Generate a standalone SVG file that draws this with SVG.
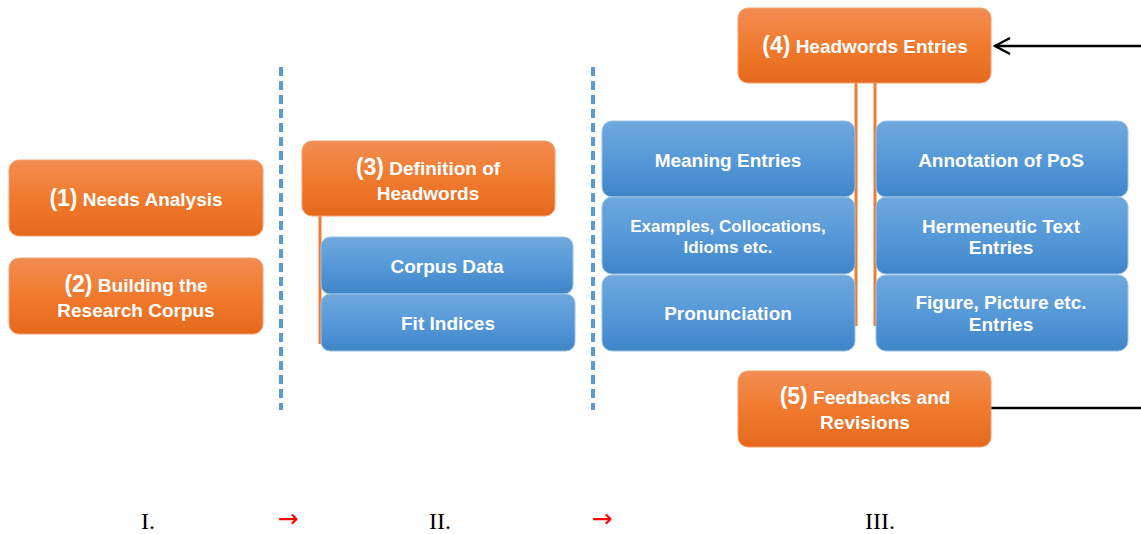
<svg xmlns="http://www.w3.org/2000/svg" width="1141" height="534" viewBox="0 0 1141 534">
<defs>
<linearGradient id="og" x1="0" y1="0" x2="0" y2="1">
<stop offset="0" stop-color="#f28d52"/>
<stop offset="0.5" stop-color="#f07a2e"/>
<stop offset="1" stop-color="#e5691c"/>
</linearGradient>
<linearGradient id="bg" x1="0" y1="0" x2="0" y2="1">
<stop offset="0" stop-color="#6fa8dc"/>
<stop offset="0.5" stop-color="#5699d9"/>
<stop offset="1" stop-color="#3f85c8"/>
</linearGradient>
<marker id="open" viewBox="0 0 20 20" refX="18" refY="10" markerWidth="20" markerHeight="20" markerUnits="userSpaceOnUse" orient="auto">
<path d="M3,2 L18,10 L3,18" fill="none" stroke="#000" stroke-width="2.5"/>
</marker>
</defs>
<style>
.o{fill:url(#og);stroke:#f4a070;stroke-width:1}
.b{fill:url(#bg);stroke:#9cc3e8;stroke-width:1}
.t{font-family:"Liberation Sans",Arial,sans-serif;font-weight:bold;font-size:19px;fill:#fff;text-anchor:middle}
.n{font-size:23px}
.s{font-size:17px}
.dash{stroke:#5b9bd5;stroke-width:4;stroke-dasharray:9 5}
.ol{stroke:#ed7d31;stroke-width:3}
.r{font-family:"Liberation Serif","Times New Roman",serif;font-size:24px;fill:#000;text-anchor:middle}
.ra{font-family:"DejaVu Sans",sans-serif;font-size:25px;fill:#ff0000;text-anchor:middle}
</style>
<g id="connectors">
<line class="dash" x1="281" y1="67" x2="281" y2="410"/>
<line class="dash" x1="593" y1="67" x2="593" y2="410"/>
<line class="ol" x1="320" y1="216" x2="320" y2="344"/>
<line class="ol" x1="856" y1="83" x2="856" y2="326"/>
<line class="ol" x1="875" y1="83" x2="875" y2="326"/>
<line x1="1141" y1="46" x2="995" y2="46" stroke="#000" stroke-width="2.5" marker-end="url(#open)"/>
<line x1="991" y1="408" x2="1141" y2="408" stroke="#000" stroke-width="2.5"/>
</g>
<g id="n1"><rect class="o" x="9" y="160" width="254" height="76" rx="10"/><text class="t" x="136" y="206"><tspan class="n">(1)</tspan> Needs Analysis</text></g>
<g id="n2"><rect class="o" x="9" y="258" width="254" height="76" rx="10"/><text class="t" x="136" y="292"><tspan class="n">(2)</tspan> Building the</text><text class="t" x="136" y="317">Research Corpus</text></g>
<g id="n3"><rect class="o" x="302" y="141" width="253" height="75" rx="10"/><text class="t" x="428" y="175"><tspan class="n">(3)</tspan> Definition of</text><text class="t" x="428" y="200">Headwords</text></g>
<g id="n3a"><rect class="b" x="321" y="237" width="252" height="57" rx="9"/><text class="t" x="447" y="273">Corpus Data</text></g>
<g id="n3b"><rect class="b" x="321" y="294" width="254" height="57" rx="9"/><text class="t" x="448" y="330">Fit Indices</text></g>
<g id="n4"><rect class="o" x="738" y="8" width="253" height="75" rx="10"/><text class="t" x="865" y="53"><tspan class="n">(4)</tspan> Headwords Entries</text></g>
<g id="m1"><rect class="b" x="602" y="121" width="253" height="76" rx="10"/><text class="t" x="728" y="167">Meaning Entries</text></g>
<g id="m2"><rect class="b" x="602" y="197" width="253" height="77" rx="10"/><text class="t s" x="728" y="232">Examples, Collocations,</text><text class="t s" x="728" y="253">Idioms etc.</text></g>
<g id="m3"><rect class="b" x="602" y="275" width="253" height="76" rx="10"/><text class="t" x="728" y="320">Pronunciation</text></g>
<g id="p1"><rect class="b" x="876" y="121" width="252" height="76" rx="10"/><text class="t" x="1001" y="167">Annotation of PoS</text></g>
<g id="p2"><rect class="b" x="876" y="197" width="252" height="77" rx="10"/><text class="t" x="1001" y="233">Hermeneutic Text</text><text class="t" x="1001" y="254">Entries</text></g>
<g id="p3"><rect class="b" x="876" y="275" width="252" height="76" rx="10"/><text class="t" x="1001" y="309">Figure, Picture etc.</text><text class="t" x="1001" y="331">Entries</text></g>
<g id="n5"><rect class="o" x="738" y="371" width="253" height="76" rx="10"/><text class="t" x="865" y="404"><tspan class="n">(5)</tspan> Feedbacks and</text><text class="t" x="865" y="429">Revisions</text></g>
<g id="labels">
<text class="r" x="148" y="529">I.</text>
<text class="ra" x="288" y="527">→</text>
<text class="r" x="440" y="529">II.</text>
<text class="ra" x="602" y="527">→</text>
<text class="r" x="880" y="529">III.</text>
</g>
</svg>
